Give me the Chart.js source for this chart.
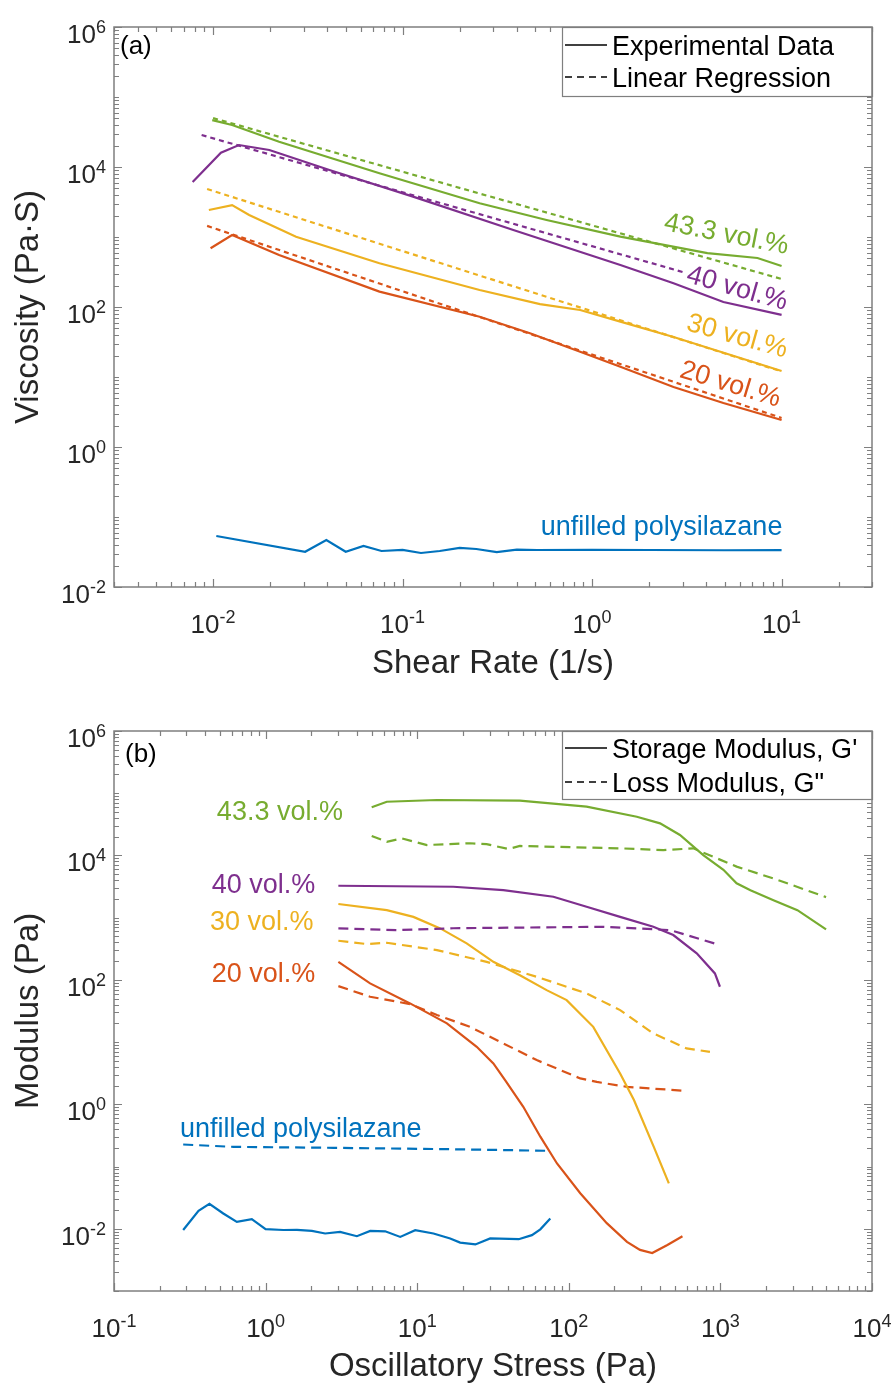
<!DOCTYPE html>
<html>
<head>
<meta charset="utf-8">
<script src="https://cdn.jsdelivr.net/npm/chart.js@4.4.0/dist/chart.umd.min.js"></script>
<style>
  html, body { margin: 0; padding: 0; background: #fff; }
  #wrap { position: relative; width: 896px; height: 1384px; }
  canvas { position: absolute; left: 0; }
</style>
</head>
<body>
<div id="wrap">
  <canvas id="chartA" width="896" height="692" style="top:0"></canvas>
  <canvas id="chartB" width="896" height="692" style="top:692px"></canvas>
</div>
<script>
// ---- panel (a): viscosity vs shear rate ----
const rate43 = [0.0099, 0.0126, 0.0223, 0.0755, 0.255, 0.575, 1.41, 4.06, 7.46, 10];
const visc43 = [46800, 39800, 23000, 8130, 3030, 1750, 1010, 589, 501, 385];
const regRate43 = [0.01, 10];
const regVisc43 = [50000, 251];

const rate40 = [0.0078, 0.011, 0.0137, 0.0198, 0.0411, 0.1135, 0.384, 1.41, 2.69, 4.93, 10];
const visc40 = [6110, 16000, 20600, 17500, 9060, 3770, 1259, 398, 219, 118, 77];
const regRate40 = [0.0087, 3.1];
const regVisc40 = [28600, 309];

const rate30 = [0.0095, 0.0126, 0.0155, 0.0274, 0.0755, 0.255, 0.531, 0.865, 1.41, 2.69, 10];
const visc30 = [2430, 2860, 2060, 1010, 421, 175, 110, 90.6, 61.7, 37.2, 12.2];
const regRate30 = [0.0093, 10];
const regVisc30 = [4850, 12];

const rate20 = [0.0097, 0.0126, 0.0223, 0.0755, 0.255, 0.47, 0.865, 1.41, 2.69, 4.93, 10];
const visc20 = [690, 1070, 553, 166, 72.6, 42.1, 23, 14, 7.19, 4.26, 2.43];
const regRate20 = [0.0093, 10];
const regVisc20 = [1440, 2.6];

const rate0 = [0.0104, 0.0306, 0.0396, 0.0501, 0.0622, 0.0774, 0.1, 0.125, 0.157, 0.2, 0.245, 0.314, 0.401, 0.513, 1, 2, 5, 10];
const visc0 = [0.0535, 0.0319, 0.0469, 0.0319, 0.0386, 0.0327, 0.0338, 0.0306, 0.0327, 0.0361, 0.0349, 0.0316, 0.0341, 0.0338, 0.034, 0.0338, 0.0335, 0.0336];

// ---- panel (b): modulus vs oscillatory stress ----
const stress43 = [5.01, 6.3, 13.5, 47.6, 131, 281, 400, 541, 771, 1047, 1279, 1578, 2239, 3221, 4977];
const storage43 = [59300, 72900, 77800, 75900, 60700, 41900, 32800, 21300, 10100, 5890, 3560, 2750, 1910, 1320, 649];
const stress43Loss = [5.01, 6.3, 7.91, 11.6, 22.3, 28.7, 39.9, 47.6, 218, 420, 662, 1279, 2239, 4977];
const loss43 = [20500, 16600, 18800, 14700, 15700, 15200, 12700, 14200, 13000, 12200, 13000, 6610, 4270, 2140];

const stress40 = [3.02, 17.3, 37, 79.1, 131, 218, 361, 489, 698, 920, 993];
const storage40 = [3260, 3140, 2780, 2170, 1500, 1030, 714, 525, 267, 127, 77.6];
const stress40Loss = [3.02, 7.33, 17.3, 169, 466, 946];
const loss40 = [673, 631, 676, 714, 631, 376];

const stress30 = [3.02, 6.3, 9.44, 14.2, 21.2, 31.8, 47.6, 71.4, 96.8, 145, 218, 269, 363, 457];
const storage30 = [1660, 1320, 1030, 673, 386, 195, 119, 68.5, 47.3, 17.6, 3.14, 1.17, 0.209, 0.0537];
const stress30Loss = [3.02, 4.65, 6.3, 13.5, 28.7, 61.4, 131, 218, 361, 598, 853];
const loss30 = [426, 377, 395, 301, 195, 112, 60.7, 32.7, 13.8, 7.93, 6.98];

const stress20 = [3.02, 4.89, 8.97, 15.7, 24.7, 31.8, 38, 50.1, 64.9, 83.6, 119, 178, 242, 295, 355, 447, 562];
const storage20 = [195, 87.9, 41.9, 20, 8.41, 4.54, 2.45, 0.912, 0.302, 0.112, 0.0372, 0.0123, 0.00617, 0.00457, 0.00407, 0.0055, 0.00759];
const stress20Loss = [3.02, 4.89, 8.97, 13.5, 22.3, 37, 61.4, 119, 153, 242, 562];
const loss20 = [79.4, 53.6, 40.8, 27.2, 17.6, 9.53, 5.14, 2.61, 2.29, 1.91, 1.66];

const stress0 = [0.286, 0.361, 0.426, 0.526, 0.646, 0.811, 1.0, 1.31, 1.61, 2.02, 2.47, 3.1, 4.0, 4.9, 6.15, 7.73, 9.7, 12.8, 16.5, 19.2, 24.2, 30.3, 46.7, 57.1, 64.9, 75.5];
const storage0 = [0.00955, 0.0195, 0.0251, 0.0176, 0.0129, 0.0143, 0.00986, 0.00955, 0.0096, 0.00925, 0.0084, 0.0089, 0.0076, 0.00925, 0.0091, 0.0074, 0.0095, 0.0084, 0.007, 0.006, 0.0056, 0.007, 0.0068, 0.0079, 0.0098, 0.0146];
const stress0Loss = [0.286, 0.616, 2.81, 16.5, 75.5];
const loss0 = [0.226, 0.207, 0.2, 0.19, 0.179];

// MATLAB default colours
const BLUE = "#0072BD", ORANGE = "#D95319", YELLOW = "#EDB120", PURPLE = "#7E2F8E", GREEN = "#77AC30";
const FONT = '"Liberation Sans", Arial, Helvetica, sans-serif';
const AXIS_GRAY = "#7f7f7f";
const TEXT = "#262626";

const pts = (xs, ys) => xs.map((x, i) => ({ x: x, y: ys[i] }));

function line(xs, ys, color, dash) {
  return {
    data: pts(xs, ys),
    borderColor: color,
    borderWidth: 2.2,
    borderDash: dash || [],
    pointRadius: 0,
    fill: false,
    tension: 0,
  };
}

function drawPow(ctx, exp, x, y, align) {
  ctx.font = `26px ${FONT}`;
  const w1 = ctx.measureText("10").width;
  ctx.font = `18px ${FONT}`;
  const w2 = ctx.measureText(exp).width;
  const x0 = align === "center" ? x - (w1 + w2) / 2 : x - (w1 + w2);
  ctx.textAlign = "left";
  ctx.textBaseline = "alphabetic";
  ctx.font = `26px ${FONT}`;
  ctx.fillText("10", x0, y);
  ctx.font = `18px ${FONT}`;
  ctx.fillText(exp, x0 + w1, y - 10);
}

// draws the boxed MATLAB-style axes, ticks, labels, legend and notes
const matlabAxes = {
  id: "matlabAxes",
  afterDatasetsDraw(chart, args, opts) {
    const ctx = chart.ctx;
    const area = chart.chartArea;
    const xs = chart.scales.x, ys = chart.scales.y;
    ctx.save();

    // notes
    opts.notes.forEach((n) => {
      ctx.save();
      ctx.translate(xs.getPixelForValue(n.x), ys.getPixelForValue(n.y));
      ctx.rotate((n.angle || 0) * Math.PI / 180);
      ctx.fillStyle = n.color;
      ctx.font = `27px ${FONT}`;
      ctx.textAlign = n.align || "left";
      ctx.textBaseline = "alphabetic";
      ctx.fillText(n.text, 0, 0);
      ctx.restore();
    });

    // ticks (inward, all four sides)
    ctx.strokeStyle = AXIS_GRAY;
    ctx.lineWidth = 1.2;
    const logTicks = (scale, labelled, horizontal) => {
      const lo = Math.floor(Math.log10(scale.min)), hi = Math.ceil(Math.log10(scale.max));
      for (let d = lo; d <= hi; d++) {
        for (let m = 1; m <= 9; m++) {
          const v = m * Math.pow(10, d);
          if (v < scale.min * 0.999 || v > scale.max * 1.001) continue;
          const p = Math.round(scale.getPixelForValue(v)) + 0.5;
          const len = (m === 1 && labelled.includes(d)) ? 8 : 5;
          ctx.beginPath();
          if (horizontal) {
            ctx.moveTo(p, area.bottom); ctx.lineTo(p, area.bottom - len);
            ctx.moveTo(p, area.top); ctx.lineTo(p, area.top + len);
          } else {
            ctx.moveTo(area.left, p); ctx.lineTo(area.left + len, p);
            ctx.moveTo(area.right, p); ctx.lineTo(area.right - len, p);
          }
          ctx.stroke();
        }
      }
    };
    logTicks(xs, opts.xLabels, true);
    logTicks(ys, opts.yLabels, false);

    // legend box
    const lg = opts.legend;
    const lx0 = lg.left, lx1 = area.right, ly0 = area.top, ly1 = area.top + lg.height;
    ctx.fillStyle = "#fff";
    ctx.fillRect(lx0, ly0, lx1 - lx0, ly1 - ly0);
    ctx.strokeStyle = AXIS_GRAY;
    ctx.lineWidth = 1.2;
    ctx.strokeRect(lx0 + 0.5, ly0 + 0.5, lx1 - lx0, ly1 - ly0);
    lg.items.forEach((it, i) => {
      const yy = ly0 + lg.rowY[i];
      ctx.strokeStyle = "#000";
      ctx.lineWidth = 1.6;
      ctx.setLineDash(it.dash);
      ctx.beginPath();
      ctx.moveTo(lx0 + 3, yy);
      ctx.lineTo(lx0 + 45, yy);
      ctx.stroke();
      ctx.setLineDash([]);
      ctx.fillStyle = "#000";
      ctx.font = `27px ${FONT}`;
      ctx.textAlign = "left";
      ctx.textBaseline = "alphabetic";
      ctx.fillText(it.label, lx0 + 50, yy + 10);
    });

    // frame
    ctx.strokeStyle = AXIS_GRAY;
    ctx.lineWidth = 1.5;
    ctx.strokeRect(area.left, area.top, area.right - area.left, area.bottom - area.top);

    // tick labels
    ctx.fillStyle = TEXT;
    opts.xLabels.forEach((d) => drawPow(ctx, String(d), xs.getPixelForValue(Math.pow(10, d)), area.bottom + 46, "center"));
    opts.yLabels.forEach((d) => drawPow(ctx, String(d), area.left - 8, ys.getPixelForValue(Math.pow(10, d)) + 16, "right"));

    // axis titles
    ctx.font = `33px ${FONT}`;
    ctx.textAlign = "center";
    ctx.textBaseline = "alphabetic";
    ctx.fillText(opts.xTitle, (area.left + area.right) / 2, area.bottom + opts.xTitleGap);
    ctx.save();
    ctx.translate(38, (area.top + area.bottom) / 2);
    ctx.rotate(-Math.PI / 2);
    ctx.fillText(opts.yTitle, 0, 0);
    ctx.restore();

    // panel tag
    ctx.font = `26px ${FONT}`;
    ctx.textAlign = "left";
    ctx.fillStyle = "#000";
    ctx.fillText(opts.tag.text, opts.tag.x, area.top + opts.tag.dy);

    ctx.restore();
  },
};

function makeChart(id, datasets, xRange, yRange, padding, axes) {
  return new Chart(document.getElementById(id), {
    type: "line",
    data: { datasets: datasets },
    options: {
      responsive: false,
      animation: false,
      devicePixelRatio: 1,
      layout: { padding: padding },
      scales: {
        x: { type: "logarithmic", min: xRange[0], max: xRange[1], display: false },
        y: { type: "logarithmic", min: yRange[0], max: yRange[1], display: false },
      },
      plugins: {
        legend: { display: false },
        tooltip: { enabled: false },
        matlabAxes: axes,
      },
    },
    plugins: [matlabAxes],
  });
}

const dashA = [5, 4];
makeChart(
  "chartA",
  [
    line(rate43, visc43, GREEN),
    line(regRate43, regVisc43, GREEN, dashA),
    line(rate40, visc40, PURPLE),
    line(regRate40, regVisc40, PURPLE, dashA),
    line(regRate30, regVisc30, YELLOW, dashA),
    line(rate30, visc30, YELLOW),
    line(regRate20, regVisc20, ORANGE, dashA),
    line(rate20, visc20, ORANGE),
    line(rate0, visc0, BLUE),
  ],
  [0.003, 30],
  [0.01, 1e6],
  { left: 114, right: 24, top: 27, bottom: 105 },
  {
    xLabels: [-2, -1, 0, 1],
    yLabels: [-2, 0, 2, 4, 6],
    xTitle: "Shear Rate (1/s)",
    yTitle: "Viscosity (Pa\u00B7S)",
    xTitleGap: 86,
    tag: { text: "(a)", x: 120, dy: 27 },
    legend: {
      left: 562,
      height: 69,
      rowY: [18, 50],
      items: [
        { label: "Experimental Data", dash: [] },
        { label: "Linear Regression", dash: [7, 5] },
      ],
    },
    notes: [
      { text: "43.3 vol.%", x: 2.37, y: 1259, angle: 11, color: GREEN },
      { text: "40 vol.%", x: 3.1, y: 230, angle: 16, color: PURPLE },
      { text: "30 vol.%", x: 3.1, y: 46.9, angle: 15.5, color: YELLOW },
      { text: "20 vol.%", x: 2.86, y: 10.1, angle: 17, color: ORANGE },
      { text: "unfilled polysilazane", x: 10.1, y: 0.0553, angle: 0, color: BLUE, align: "right" },
    ],
  }
);

const dashB = [10, 6];
makeChart(
  "chartB",
  [
    line(stress43, storage43, GREEN),
    line(stress43Loss, loss43, GREEN, dashB),
    line(stress40, storage40, PURPLE),
    line(stress40Loss, loss40, PURPLE, dashB),
    line(stress30, storage30, YELLOW),
    line(stress30Loss, loss30, YELLOW, dashB),
    line(stress20, storage20, ORANGE),
    line(stress20Loss, loss20, ORANGE, dashB),
    line(stress0, storage0, BLUE),
    line(stress0Loss, loss0, BLUE, dashB),
  ],
  [0.1, 1e4],
  [0.001, 1e6],
  { left: 114, right: 24, top: 39, bottom: 93 },
  {
    xLabels: [-1, 0, 1, 2, 3, 4],
    yLabels: [-2, 0, 2, 4, 6],
    xTitle: "Oscillatory Stress (Pa)",
    yTitle: "Modulus (Pa)",
    xTitleGap: 85,
    tag: { text: "(b)", x: 125, dy: 31 },
    legend: {
      left: 562,
      height: 68,
      rowY: [17, 51],
      items: [
        { label: "Storage Modulus, G'", dash: [] },
        { label: "Loss Modulus, G\"", dash: [7, 5] },
      ],
    },
    notes: [
      { text: "43.3 vol.%", x: 0.477, y: 37000, color: GREEN },
      { text: "40 vol.%", x: 0.441, y: 2450, color: PURPLE },
      { text: "30 vol.%", x: 0.43, y: 631, color: YELLOW },
      { text: "20 vol.%", x: 0.441, y: 93, color: ORANGE },
      { text: "unfilled polysilazane", x: 0.272, y: 0.3, color: BLUE },
    ],
  }
);
</script>
</body>
</html>
